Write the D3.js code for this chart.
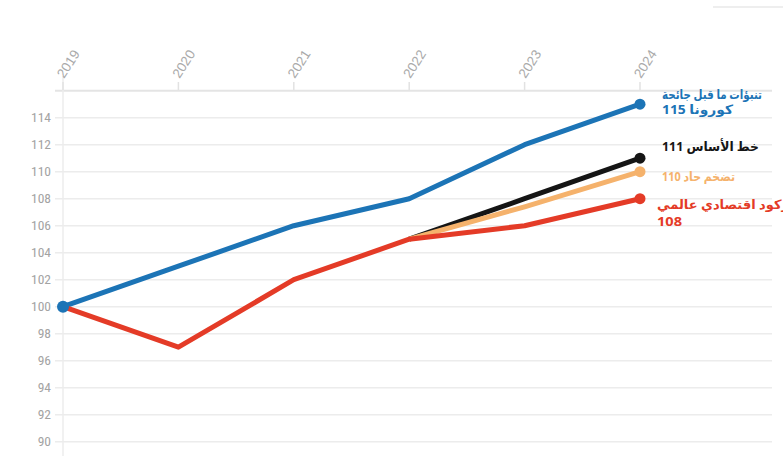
<!DOCTYPE html>
<html>
<head>
<meta charset="utf-8">
<script src="https://cdn.jsdelivr.net/npm/d3@7"></script>
<style>
  body { margin: 0; background: #fff; }
  svg { display: block; }
</style>
</head>
<body>
<div id="chart"></div>
<script>
// data
var years = [2019, 2020, 2021, 2022, 2023, 2024];
var yTicks = [90, 92, 94, 96, 98, 100, 102, 104, 106, 108, 110, 112, 114];

var preCovid = [100, 103, 106, 108, 112, 115];
var stagnation = [100, 97, 102, 105, 106, 108];
var baseline = [null, null, null, 105, 108, 111];
var inflation = [null, null, null, 105, 107.4, 110];

var labelPreCovid = ["تنبؤات ما قبل جائحة", "كورونا 115"];
var labelBaseline = ["خط الأساس 111"];
var labelInflation = ["تضخم حاد 110"];
var labelStagnation = ["ركود اقتصادي عالمي", "108"];

var W = 783, H = 464;

var svg = d3.select("#chart").append("svg")
    .attr("width", W)
    .attr("height", H);

// scales
var x = d3.scaleLinear().domain([2019, 2024]).range([63, 640]);
var y = d3.scaleLinear().domain([90, 116]).range([441.7, 90.7]);

// little grey rule top right
svg.append("line")
    .attr("x1", 713).attr("x2", W).attr("y1", 7).attr("y2", 7)
    .attr("stroke", "#ddd").attr("stroke-width", 1);

// grid lines
svg.append("g")
  .selectAll("line")
  .data(yTicks.concat([116]))
  .enter()
  .append("line")
    .attr("x1", 55)
    .attr("x2", 772)
    .attr("y1", function(d) { return y(d); })
    .attr("y2", function(d) { return y(d); })
    .attr("stroke", function(d) { return d === 116 ? "#e4e4e4" : "#ececec"; })
    .attr("stroke-width", function(d) { return d === 116 ? 2 : 1.5; });

// vertical axis line
svg.append("line")
    .attr("x1", x(2019)).attr("x2", x(2019))
    .attr("y1", 76).attr("y2", 456)
    .attr("stroke", "#ececec").attr("stroke-width", 1.5);

// y tick labels
svg.append("g")
  .selectAll("text")
  .data(yTicks)
  .enter()
  .append("text")
    .attr("x", 51)
    .attr("y", function(d) { return y(d); })
    .attr("dy", "0.35em")
    .attr("text-anchor", "end")
    .attr("fill", "#a3a3a3")
    .style("font-family", "'Liberation Sans Narrow', 'Roboto Condensed', 'Liberation Sans', sans-serif")
    .style("font-size", "13.5px")
    .text(function(d) { return d; });

// x ticks + rotated year labels
var xg = svg.append("g");
xg.selectAll("line")
  .data(years)
  .enter()
  .append("line")
    .attr("x1", function(d) { return x(d); })
    .attr("x2", function(d) { return x(d); })
    .attr("y1", 82)
    .attr("y2", 90)
    .attr("stroke", "#e2e2e2")
    .attr("stroke-width", 1.5);

xg.selectAll("text")
  .data(years)
  .enter()
  .append("text")
    .attr("transform", function(d) { return "translate(" + (x(d) + 1) + ",79) rotate(-57)"; })
    .attr("fill", "#aaaaaa")
    .style("font-family", "'Liberation Sans Narrow', 'Liberation Sans', sans-serif")
    .style("font-size", "13.5px")
    .text(function(d) { return d; });

// the lines
function series(vals) {
  return years.map(function(yr, i) { return {year: yr, v: vals[i]}; })
              .filter(function(d) { return d.v !== null; });
}

var line = d3.line()
    .x(function(d) { return x(d.year); })
    .y(function(d) { return y(d.v); });

var lines = [
  {vals: preCovid, color: "#1c74b6"},
  {vals: baseline, color: "#151515"},
  {vals: inflation, color: "#f5b26c"},
  {vals: stagnation, color: "#e43b27"}
];

lines.forEach(function(s) {
  var pts = series(s.vals);
  svg.append("path")
      .datum(pts)
      .attr("fill", "none")
      .attr("stroke", s.color)
      .attr("stroke-width", 5)
      .attr("stroke-linejoin", "round")
      .attr("d", line);
  var last = pts[pts.length - 1];
  svg.append("circle")
      .attr("cx", x(last.year))
      .attr("cy", y(last.v))
      .attr("r", 5.5)
      .attr("fill", s.color);
});

// start dot
svg.append("circle")
    .attr("cx", x(2019))
    .attr("cy", y(preCovid[0]))
    .attr("r", 6)
    .attr("fill", "#1c74b6");

// series labels, arabic, right to left; squeezed to the widths seen in the picture
function label(lines, color, ys, widths, x0) {
  lines.forEach(function(l, i) {
    svg.append("text")
        .attr("direction", "rtl")
        .attr("text-anchor", "end")
        .attr("x", x0)
        .attr("y", ys[i])
        .attr("textLength", widths[i])
        .attr("lengthAdjust", "spacingAndGlyphs")
        .attr("fill", color)
        .style("font-family", "'Noto Sans', 'DejaVu Sans', sans-serif")
        .style("font-weight", "bold")
        .style("font-size", "13px")
        .text(l);
  });
}

label(labelPreCovid, "#1c74b6", [99, 114], [100, 71], 662);
label(labelBaseline, "#151515", [151], [97], 662);
label(labelInflation, "#f5b26c", [181], [73], 662);
label(labelStagnation, "#e43b27", [209, 226], [132, 25], 657);
</script>
</body>
</html>
